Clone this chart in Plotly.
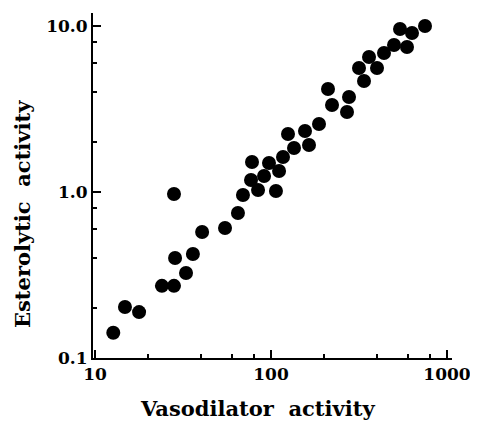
import plotly.graph_objects as go

# Data (log-log scatter)
vasodilator = [12.7, 14.8, 17.8, 24.0, 28.1, 32.9, 28.5, 36.0, 28.1, 40.6,
               54.8, 64.9, 69.3, 78.0, 77.0, 84.4, 91.3, 97.4, 106.7, 111.1,
               117.0, 135.1, 164.4, 124.9, 156.0, 187.4, 210.8, 222.2, 277.5, 270.3,
               337.6, 316.2, 400.3, 360.5, 438.5, 500.0, 592.6, 540.8, 632.5, 750.0]
esterolytic = [0.142, 0.203, 0.189, 0.272, 0.272, 0.325, 0.400, 0.423, 0.973, 0.574,
               0.607, 0.747, 0.959, 1.516, 1.181, 1.028, 1.249, 1.495, 1.014, 1.338,
               1.625, 1.841, 1.919, 2.236, 2.331, 2.568, 4.174, 3.342, 3.735, 3.032,
               4.664, 5.585, 5.585, 6.506, 6.876, 7.683, 7.473, 9.592, 9.075, 10.0]

x_major = [10, 100, 1000]
x_major_text = ["10", "100", "1000"]
x_minor = [20, 40, 60, 80, 200, 400, 600, 800]
y_major = [0.1, 1, 10]
y_major_text = ["0.1", "1.0", "10.0"]
y_minor = [0.2, 0.4, 0.6, 0.8, 2, 4, 6, 8]

x_title = "Vasodilator  activity"
y_title = "Esterolytic  activity"

FONT = "DejaVu Serif"

fig = go.Figure(go.Scatter(
    x=vasodilator, y=esterolytic, mode="markers",
    marker=dict(color="black", size=14, line=dict(width=0)),
    showlegend=False,
))

axis_common = dict(
    type="log", showgrid=False, zeroline=False, showline=True,
    linecolor="black", linewidth=2, ticks="inside", ticklen=8,
    tickwidth=2, tickcolor="black", tickmode="array",
    tickfont=dict(family=FONT, size=17, color="black", weight="bold"),
)

fig.update_xaxes(
    **axis_common,
    range=[0.9886, 3.0284],
    tickvals=x_major, ticktext=x_major_text,
    minor=dict(tickmode="array", tickvals=x_minor, ticks="inside",
               ticklen=4, tickwidth=1.5, tickcolor="black", showgrid=False),
)
fig.update_yaxes(
    **axis_common,
    range=[-1, 1.0783],
    tickvals=y_major, ticktext=y_major_text,
    minor=dict(tickmode="array", tickvals=y_minor, ticks="inside",
               ticklen=4, tickwidth=1.5, tickcolor="black", showgrid=False),
)

# The page body keeps an 8px margin, so the figure is sized to fit the window.
fig.update_layout(
    width=470, height=413,
    margin=dict(l=85, r=26, t=5, b=63),
    paper_bgcolor="white", plot_bgcolor="white",
    annotations=[
        dict(text=x_title, xref="paper", yref="paper", x=0.4596, y=-0.145,
             xanchor="center", yanchor="middle", showarrow=False,
             font=dict(family=FONT, size=21, color="black", weight="bold")),
        dict(text=y_title, xref="paper", yref="paper", x=-0.195, y=0.4174,
             xanchor="center", yanchor="middle", showarrow=False, textangle=-90,
             font=dict(family=FONT, size=21, color="black", weight="bold")),
    ],
)

fig.write_html("out.html")
